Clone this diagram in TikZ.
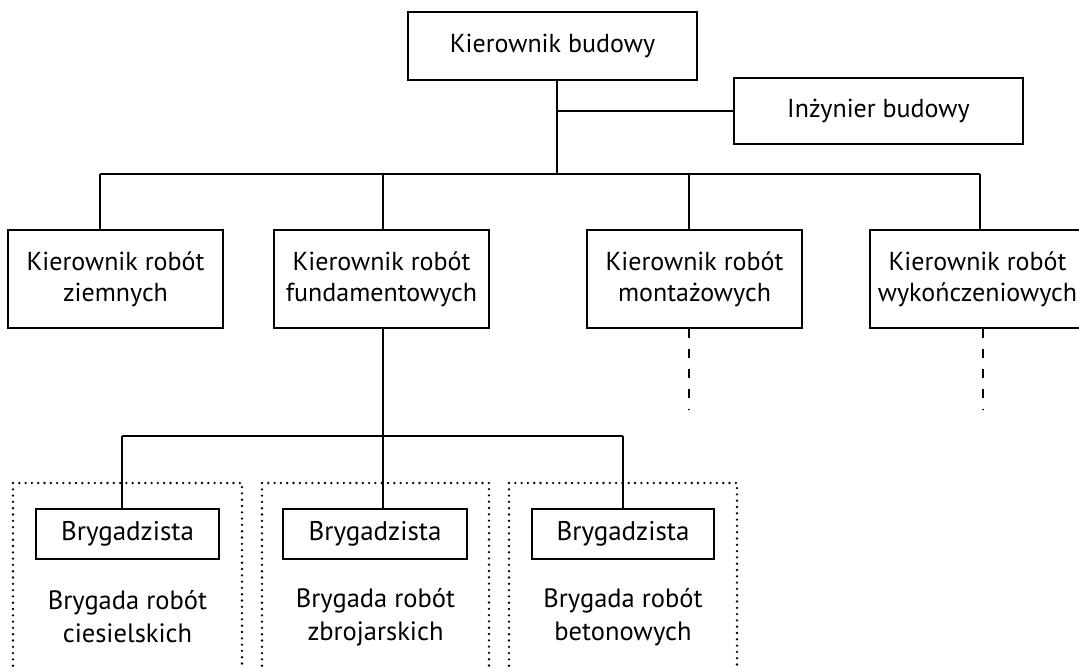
\documentclass[tikz,border=0pt]{standalone}
\usepackage{fontspec}
\setmainfont{PT Sans}
\begin{document}
\begin{tikzpicture}[x=1pt,y=-1pt,
  box/.style={draw, line width=1.5pt, inner sep=0pt, align=center,
    font=\fontsize{26}{31}\selectfont},
  bbox/.style={box, font=\fontsize{27}{31}\selectfont},
  lbl/.style={inner sep=0pt, align=center, font=\fontsize{26.5}{33}\selectfont},
  conn/.style={line width=2.8pt},
  dashconn/.style={line width=2.8pt, dash pattern=on 9pt off 11pt},
  dotframe/.style={line width=2.6pt, line cap=round, dash pattern=on 0pt off 6.3pt}]
\clip (0,0) rectangle (1079,669);
% boxes
\node[box, minimum width=289pt, minimum height=68pt] (kb) at (552.5,46) {Kierownik budowy};
\node[box, minimum width=289pt, minimum height=66pt] (ib) at (878.5,111) {Inżynier budowy};
\node[box, minimum width=215pt, minimum height=98pt] (zr) at (115.5,279) {Kierownik robót\\ziemnych};
\node[box, minimum width=215pt, minimum height=98pt] (fu) at (381.5,279) {Kierownik robót\\fundamentowych};
\node[box, minimum width=215pt, minimum height=98pt] (mo) at (694.5,279) {Kierownik robót\\montażowych};
\node[box, minimum width=215pt, minimum height=98pt] (wk) at (977.5,279) {Kierownik robót\\wykończeniowych};
\node[bbox, minimum width=183pt, minimum height=50pt] (b1) at (127.5,534) {Brygadzista};
\node[bbox, minimum width=184pt, minimum height=50pt] (b2) at (375,534) {Brygadzista};
\node[bbox, minimum width=182pt, minimum height=50pt] (b3) at (623,534) {Brygadzista};
\node[lbl] (t1) at (127.5,617) {Brygada robót\\ciesielskich};
\node[lbl] (t2) at (375.5,617) {Brygada robót\\zbrojarskich};
\node[lbl] (t3) at (623,617) {Brygada robót\\betonowych};
% junction coordinates
\coordinate (ja) at (557,111);
\coordinate (jb) at (557,174);
\coordinate (c1) at (100,174);
\coordinate (c2) at (383,174);
\coordinate (c3) at (689,174);
\coordinate (c4) at (980,174);
\coordinate (e1) at (122,436);
\coordinate (e2) at (383,436);
\coordinate (e3) at (623,436);
\coordinate (d3) at (689,409);
\coordinate (d4) at (983,409);
% connectors
\draw[conn] (kb.south -| jb) -- (jb);
\draw[conn] (ja) -- (ib.west);
\draw[conn] (c1) -- (c4);
\draw[conn] (c1) -- (zr.north -| c1);
\draw[conn] (c2) -- (fu.north -| c2);
\draw[conn] (c3) -- (mo.north -| c3);
\draw[conn] (c4) -- (wk.north -| c4);
\draw[dashconn] (mo.south -| d3) -- (d3);
\draw[dashconn] (wk.south -| d4) -- (d4);
\draw[conn] (fu.south -| e2) -- (e2);
\draw[conn] (e1) -- (e3);
\draw[conn] (e1) -- (b1.north -| e1);
\draw[conn] (e2) -- (b2.north -| e2);
\draw[conn] (e3) -- (b3.north -| e3);
% dotted group frames
\draw[dotframe] (13,672) -- (13,483) -- (242,483) -- (242,672);
\draw[dotframe] (262,672) -- (262,483) -- (489,483) -- (489,672);
\draw[dotframe] (509,672) -- (509,483) -- (737,483) -- (737,672);
\end{tikzpicture}
\end{document}
